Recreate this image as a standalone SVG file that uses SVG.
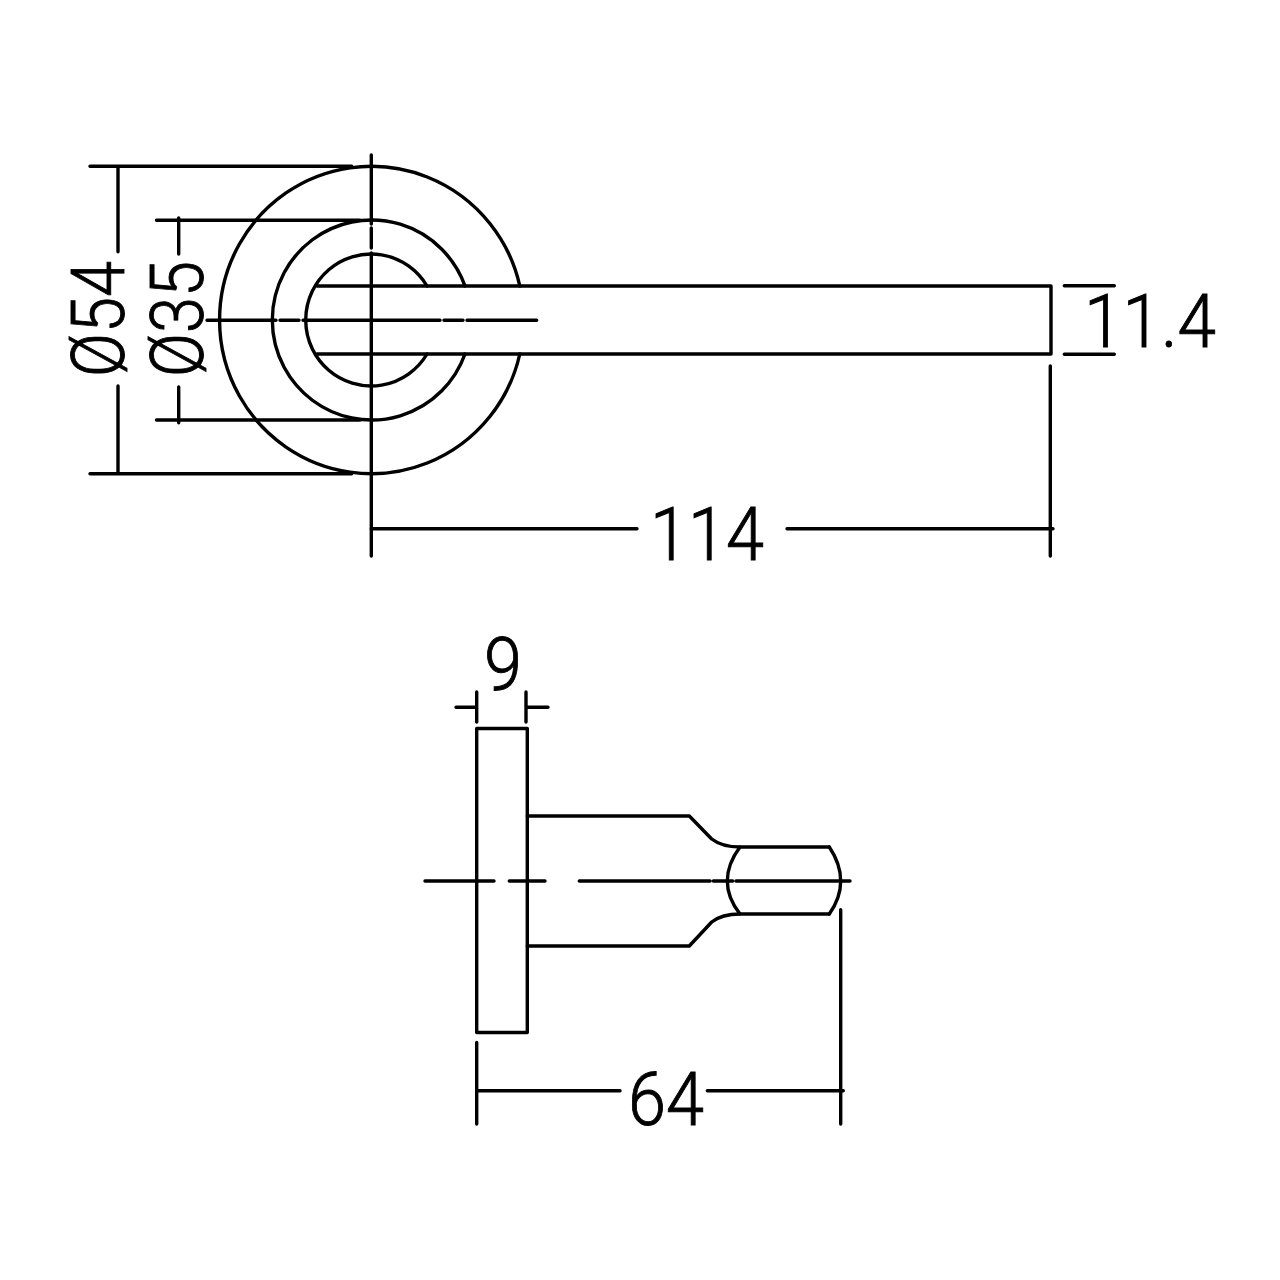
<svg xmlns="http://www.w3.org/2000/svg" width="1280" height="1280" viewBox="0 0 1280 1280">
<style>
.l{fill:none;stroke:#000;stroke-width:3.4;stroke-linecap:round;stroke-linejoin:round}
.t{font-family:"Roboto","Liberation Sans",Arial,sans-serif;font-weight:300;font-size:75px;fill:#000;stroke:#000;stroke-width:.9}
</style>
<rect width="1280" height="1280" fill="#fff"/>
<g id="front-view">
<path class="l" d="M519.8 286A152 153.7 0 1 0 519.8 354"/>
<path class="l" d="M465 286A99.3 100 0 1 0 465 354"/>
<path class="l" d="M427 286A65.3 66 0 1 0 427 354"/>
<path class="l" d="M317 286H1051V354H317"/>
</g>
<g id="centerlines-front">
<path class="l" d="M371.3 155V224M371.3 228V248M371.3 253V556"/>
<path class="l" d="M207 320.3H276M280 320.3H299M303 320.3H440M444 320.3H463M467 320.3H536.7"/>
</g>
<g id="dimensions-front">
<path class="l" d="M90 166.3H351.7M90 473.7H351.7M118 166.3V251.7M118 386V473.7"/>
<path class="l" d="M156.5 220.3H360M156.5 420H360M178.7 218V254M178.7 387V422.7"/>
<path class="l" d="M371.3 528.7H637M787 528.7H1053M1050.3 366V556"/>
<path class="l" d="M1064.3 285.7H1114.3M1064.3 354.3H1114.3"/>
<text class="t" transform="translate(124 377) rotate(-90)" textLength="116" lengthAdjust="spacingAndGlyphs">Ø54</text>
<text class="t" transform="translate(203 377) rotate(-90)" textLength="116" lengthAdjust="spacingAndGlyphs">Ø35</text>
<text class="t" x="650" y="560" textLength="114" lengthAdjust="spacingAndGlyphs">114</text>
<text class="t" x="1084" y="347" textLength="132" lengthAdjust="spacingAndGlyphs">11.4</text>
</g>
<g id="side-view">
<rect class="l" x="476.7" y="728.5" width="50.6" height="304"/>
<path class="l" d="M527.3 816H689.3L711.7 839Q722 847 740 847H829.3M527.3 946H689.3L711.7 922Q722 914 740 914H829.3"/>
<path class="l" d="M740 847Q727.3 864 727.3 881T740 914"/>
<path class="l" d="M829.3 847Q840.7 864 840.7 881T829.3 914"/>
</g>
<g id="centerlines-side">
<path class="l" d="M425 881H494M509.3 881H545M579.3 881H710M713.3 881H732.7M736 881H850"/>
</g>
<g id="dimensions-side">
<path class="l" d="M476.7 692V722M526 692V722M456 707.2H476.7M526 707.2H548"/>
<path class="l" d="M476.7 1042.4V1124M840.7 909.7V1124M476.7 1090.7H620M707.3 1090.7H843.3"/>
<text class="t" x="484" y="690" textLength="38" lengthAdjust="spacingAndGlyphs">9</text>
<text class="t" x="628" y="1125" textLength="76" lengthAdjust="spacingAndGlyphs">64</text>
</g>
</svg>
